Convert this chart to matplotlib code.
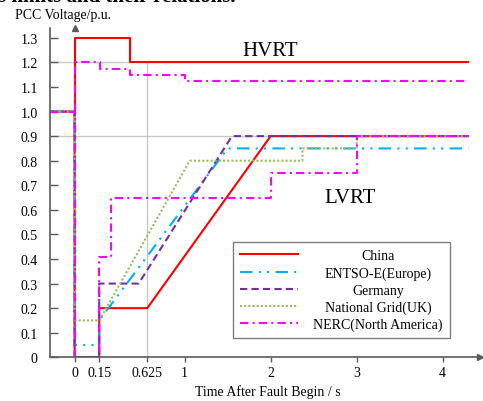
import numpy as np
import matplotlib
matplotlib.use('Agg')
import matplotlib.pyplot as plt

plt.rcParams['font.family'] = ['Liberation Serif', 'DejaVu Serif']

# the time axis in the original figure is stretched piecewise
AXIS_T = [-1.0, 0.0, 0.15, 0.625, 1.0, 2.0, 3.0, 4.0, 10.0]
AXIS_U = [-164.0, 0.0, 24.6, 72.6, 110.0, 196.0, 282.0, 368.0, 884.0]

def fwd(t):
    return np.interp(t, AXIS_T, AXIS_U)

def inv(u):
    return np.interp(u, AXIS_U, AXIS_T)

# LVRT curves (time in s, voltage in p.u.)
china_t = [-0.15, 0.0, 0.0, 0.15, 0.15, 0.625, 2.0, 4.29]
china_v = [1.0, 1.0, 0.0, 0.0, 0.2, 0.2, 0.9, 0.9]
entso_t = [-0.15, 0.0, 0.0, 0.15, 0.15, 1.5, 4.3]
entso_v = [1.0, 1.0, 0.05, 0.05, 0.15, 0.85, 0.85]
germany_t = [-0.15, 0.0, 0.0, 0.15, 0.15, 0.54, 1.55, 4.3]
germany_v = [1.0, 1.0, 0.0, 0.0, 0.3, 0.3, 0.9, 0.9]
uk_t = [-0.15, 0.0, 0.0, 0.15, 1.06, 2.37, 2.37, 3.0, 3.0, 4.3]
uk_v = [1.0, 1.0, 0.15, 0.15, 0.8, 0.8, 0.85, 0.85, 0.9, 0.9]
nerc_t = [-0.15, 0.0, 0.0, 0.15, 0.15, 0.27, 0.27, 2.0, 2.0, 3.0, 3.0, 4.3]
nerc_v = [1.0, 1.0, 0.0, 0.0, 0.41, 0.41, 0.65, 0.65, 0.75, 0.75, 0.9, 0.9]

# HVRT curves
china_hv_t = [0.0, 0.0, 0.45, 0.45, 4.29]
china_hv_v = [1.0, 1.3, 1.3, 1.2, 1.2]
nerc_hv_t = [0.0, 0.0, 0.16, 0.16, 0.45, 0.45, 1.0, 1.0, 4.3]
nerc_hv_v = [1.0, 1.2, 1.2, 1.175, 1.175, 1.15, 1.15, 1.125, 1.125]

labels = ['China', 'ENTSO-E(Europe)', 'Germany', 'National Grid(UK)', 'NERC(North America)']
x_ticks = [0, 0.15, 0.625, 1, 2, 3, 4]
x_ticklabels = ['0', '0.15', '0.625', '1', '2', '3', '4']
y_ticks = [0, 0.1, 0.2, 0.3, 0.4, 0.5, 0.6, 0.7, 0.8, 0.9, 1.0, 1.1, 1.2, 1.3]

W, H = 483, 402
fig = plt.figure(figsize=(W / 100, H / 100), dpi=100)
ax = fig.add_axes([50 / W, (H - 358.3) / H, 430 / W, (358.3 - 29) / H])
ax.set_xscale('function', functions=(fwd, inv))
ax.set_xlim(-0.15, 4.434)
ax.set_ylim(0, 1.34)

# gray guide lines
grid_c = '#c8c8c8'
ax.hlines([1.2, 0.9], -0.15, 4.3, colors=grid_c, lw=1.0, zorder=1)
ax.vlines(0.625, 0, 1.2, colors=grid_c, lw=1.0, zorder=1)

lw = 1.5
s_china = dict(color='#ff0000', lw=lw, ls='-')
s_entso = dict(color='#00b0f0', lw=lw, ls=(0, (6, 3, 1, 3, 1, 3)))
s_germany = dict(color='#7030a0', lw=lw, ls=(0, (3.5, 2)))
s_uk = dict(color='#9bbb59', lw=lw, ls=(0, (1, 1)))
s_nerc = dict(color='#ff00ff', lw=lw, ls=(0, (4, 2, 1, 2)))

h1, = ax.plot(china_t, china_v, **s_china)
ax.plot(china_hv_t, china_hv_v, **s_china)
h2, = ax.plot(entso_t, entso_v, **s_entso)
h3, = ax.plot(germany_t, germany_v, **s_germany)
h4, = ax.plot(uk_t, uk_v, **s_uk)
h5, = ax.plot(nerc_t, nerc_v, **s_nerc)
ax.plot(nerc_hv_t, nerc_hv_v, **s_nerc)

ax.text(2.0, 1.247, 'HVRT', fontsize=15, ha='center', va='center')
ax.text(2.92, 0.652, 'LVRT', fontsize=15, ha='center', va='center')

# axes: left/bottom spines with arrow heads
axis_c = '#5a5a5a'
for side in ['top', 'right']:
    ax.spines[side].set_visible(False)
for side in ['left', 'bottom']:
    ax.spines[side].set_color(axis_c)
    ax.spines[side].set_linewidth(1.2)
ax.plot(1, 0, '>', color=axis_c, ms=4.5, transform=ax.get_yaxis_transform(), clip_on=False)
ax.plot(0, 1, '^', color=axis_c, ms=4.5, transform=ax.get_xaxis_transform(), clip_on=False)

ax.set_xticks(x_ticks)
ax.set_xticklabels(x_ticklabels)
ax.minorticks_off()
ax.set_yticks(y_ticks)
ax.set_yticklabels(['0'] + ['%.1f' % v for v in y_ticks[1:]])
ax.tick_params(axis='x', direction='out', length=3.5, width=1, color=axis_c, pad=3, labelsize=10)
ax.tick_params(axis='y', direction='in', length=6, width=1, color=axis_c, pad=8.8, labelsize=10)

fig.text(15 / W, 1 - 15 / H, 'PCC Voltage/p.u.', fontsize=10, ha='left', va='center')
fig.text(267.5 / W, 1 - 391.7 / H, 'Time After Fault Begin / s', fontsize=10, ha='center', va='center')
fig.text(-2 / W, 1 - 2.5 / H, 's limits and their relations.', fontsize=15, weight='bold', ha='left', va='baseline')

leg = ax.legend([h1, h2, h3, h4, h5], labels, loc='lower left', bbox_to_anchor=(0.425, 0.058),
                borderaxespad=0, fontsize=10, handlelength=4.2, handletextpad=1.1,
                labelspacing=0.28, borderpad=0.5, fancybox=False, edgecolor='#7f7f7f', framealpha=1)
leg.get_frame().set_linewidth(1.0)

# centre the legend labels in their column
fig.canvas.draw()
r = fig.canvas.get_renderer()
texts = leg.get_texts()
widths = [t.get_window_extent(r).width for t in texts]
for t, w in zip(texts, widths):
    t.set_x((max(widths) - w) / 2)

fig.savefig('out.png', dpi=100)
